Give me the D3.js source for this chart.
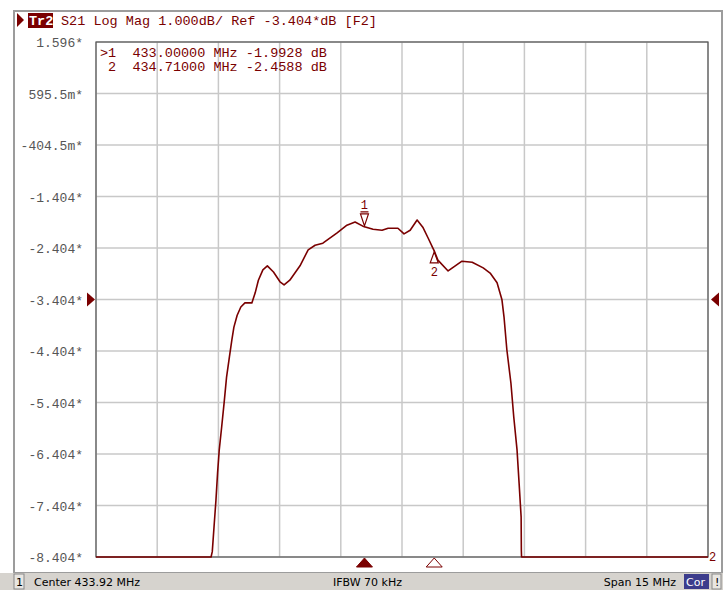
<!DOCTYPE html>
<html>
<head>
<meta charset="utf-8">
<script src="https://cdn.jsdelivr.net/npm/d3@7"></script>
<style>
  html, body { margin: 0; padding: 0; background: #fff; }
  svg { display: block; }
  .mono { font-family: "Liberation Mono", "DejaVu Sans Mono", monospace; }
  .stat { font-family: "DejaVu Sans", sans-serif; font-size: 11px; }
</style>
</head>
<body>
<svg id="vna" width="723" height="590"></svg>
<script>
// Réglages de l'analyseur (Tr2 S21)
const centreMHz = 433.92;
const spanMHz = 15;
const refDb = -3.404;
const dbParDiv = 1.0;

// Graduations verticales (valeurs + libellés comme affichés)
const yTickVals = [1.596, 0.5955, -0.4045, -1.404, -2.404, -3.404, -4.404, -5.404, -6.404, -7.404, -8.404];
const yTickLabels = ['1.596*', '595.5m*', '-404.5m*', '-1.404*', '-2.404*', '-3.404*', '-4.404*', '-5.404*', '-6.404*', '-7.404*', '-8.404*'];

// Trace (MHz, dB) ; hors bande très bas -> écrêté en bas
const freqs = [426.42, 429.24, 429.27, 429.32, 429.36, 429.40, 429.44, 429.50, 429.56, 429.62, 429.69,
  429.75, 429.80, 429.88, 429.97, 430.07, 430.24, 430.32, 430.40, 430.51, 430.62, 430.77, 430.93,
  431.03, 431.17, 431.42, 431.62, 431.79, 431.98, 432.33, 432.57, 432.77, 432.96, 433.00, 433.21,
  433.43, 433.58, 433.82, 433.97, 434.12, 434.29, 434.43, 434.56, 434.68, 434.71, 434.80, 435.05,
  435.19, 435.39, 435.64, 435.91, 436.08, 436.25, 436.37, 436.42, 436.49, 436.59, 436.66, 436.74,
  436.79, 436.84, 436.845, 436.85, 436.86, 441.42];
const gains = [-30, -30, -8.30, -7.74, -7.30, -6.77, -6.33, -5.88, -5.41, -4.91, -4.52,
  -4.19, -3.94, -3.71, -3.55, -3.47, -3.47, -3.28, -3.03, -2.83, -2.75, -2.87, -3.06,
  -3.12, -3.03, -2.75, -2.44, -2.35, -2.31, -2.11, -1.96, -1.90, -1.98, -1.99, -2.04,
  -2.06, -2.02, -2.02, -2.13, -2.06, -1.86, -2.00, -2.21, -2.41, -2.46, -2.64, -2.85,
  -2.77, -2.66, -2.68, -2.79, -2.89, -3.08, -3.41, -3.74, -4.38, -5.03, -5.69, -6.33,
  -6.97, -7.63, -8.27, -8.40, -30, -30];

// Marqueurs
const markerIds = ['1', '2'];
const markerFreqs = [433.0, 434.71];
const markerGains = [-1.9928, -2.4588];
const markerRows = ['>1  433.00000 MHz -1.9928 dB', ' 2  434.71000 MHz -2.4588 dB'];

const ROUGE = '#7a0000';
const svg = d3.select('#vna');

const x = d3.scaleLinear()
  .domain([centreMHz - spanMHz / 2, centreMHz + spanMHz / 2])
  .range([96, 708]);
const y = d3.scaleLinear()
  .domain([refDb - 5 * dbParDiv, refDb + 5 * dbParDiv])
  .range([557, 42])
  .clamp(true);

// cadre extérieur
svg.append('rect').attr('x', 14).attr('y', 11).attr('width', 708).attr('height', 562)
  .attr('fill', '#fff').attr('stroke', '#9c9c9c').attr('stroke-width', 2);

// en-tête
svg.append('path').attr('d', 'M17,13 L24,20 L17,27 Z').attr('fill', ROUGE);
svg.append('rect').attr('x', 28).attr('y', 13).attr('width', 25).attr('height', 15).attr('fill', ROUGE);
svg.append('text').attr('class', 'mono').attr('x', 29).attr('y', 25)
  .attr('font-size', 13.5).attr('font-weight', 'bold').attr('fill', '#fff').text('Tr2');
svg.append('text').attr('class', 'mono').attr('x', 61).attr('y', 25)
  .attr('font-size', 13.5).attr('fill', ROUGE)
  .text('S21 Log Mag 1.000dB/ Ref -3.404*dB [F2]');

// grille
const xGrid = d3.range(11).map(i => x.domain()[0] + i * spanMHz / 10);
svg.append('g').selectAll('line').data(xGrid).join('line')
  .attr('x1', d => x(d)).attr('x2', d => x(d)).attr('y1', 42).attr('y2', 557)
  .attr('stroke', '#c8c8c8').attr('stroke-width', 1.5);
svg.append('g').selectAll('line').data(yTickVals).join('line')
  .attr('x1', 96).attr('x2', 708).attr('y1', d => y(d)).attr('y2', d => y(d))
  .attr('stroke', '#c8c8c8').attr('stroke-width', 1.5);
svg.append('rect').attr('x', 96).attr('y', 42).attr('width', 612).attr('height', 515)
  .attr('fill', 'none').attr('stroke', '#555').attr('stroke-width', 1.2);

// libellés Y
svg.append('g').selectAll('text').data(yTickVals).join('text')
  .attr('class', 'mono').attr('x', 83).attr('y', d => y(d) + 5)
  .attr('text-anchor', 'end').attr('font-size', 13).attr('fill', '#555')
  .text((d, i) => yTickLabels[i]);

// tableau des marqueurs
svg.append('g').selectAll('text').data(markerRows).join('text')
  .attr('class', 'mono').attr('x', 100).attr('y', (d, i) => 57 + i * 14)
  .attr('font-size', 13.5).attr('fill', ROUGE).attr('xml:space', 'preserve')
  .style('white-space', 'pre').text(d => d);

// trace
const pts = freqs.map((f, i) => [f, gains[i]]);
svg.append('path').datum(pts)
  .attr('d', d3.line().x(d => x(d[0])).y(d => y(d[1])))
  .attr('fill', 'none').attr('stroke', ROUGE).attr('stroke-width', 1.6)
  .attr('stroke-linejoin', 'round');

// marqueurs sur la trace
markerFreqs.forEach((f, i) => {
  const mx = x(f), my = y(markerGains[i]);
  if (i === 0) {
    svg.append('path').attr('d', `M${mx - 4},${my - 13} L${mx + 4},${my - 13} L${mx},${my - 1} Z M${mx - 4},${my - 15} L${mx + 4},${my - 15}`)
      .attr('fill', 'none').attr('stroke', ROUGE).attr('stroke-width', 1.2);
    svg.append('text').attr('class', 'mono').attr('x', mx).attr('y', my - 18)
      .attr('text-anchor', 'middle').attr('font-size', 12).attr('fill', ROUGE).text(markerIds[i]);
  } else {
    svg.append('path').attr('d', `M${mx},${my + 1} L${mx + 4},${my + 12} L${mx - 4},${my + 12} Z`)
      .attr('fill', 'none').attr('stroke', ROUGE).attr('stroke-width', 1.2);
    svg.append('text').attr('class', 'mono').attr('x', mx).attr('y', my + 25)
      .attr('text-anchor', 'middle').attr('font-size', 12).attr('fill', ROUGE).text(markerIds[i]);
  }
  // repères en bas de la grille
  const by = 558;
  svg.append('path').attr('d', `M${mx},${by} L${mx + 8},${by + 9} L${mx - 8},${by + 9} Z`)
    .attr('fill', i === 0 ? ROUGE : '#fff').attr('stroke', ROUGE).attr('stroke-width', 1);
});

// niveau de référence (flèches gauche/droite)
const yr = y(refDb);
svg.append('path').attr('d', `M87,${yr - 7} L95,${yr} L87,${yr + 7} Z`).attr('fill', ROUGE);
svg.append('path').attr('d', `M719,${yr - 7} L711,${yr} L719,${yr + 7} Z`).attr('fill', ROUGE);
svg.append('text').attr('class', 'mono').attr('x', 709).attr('y', 561)
  .attr('font-size', 12).attr('fill', ROUGE).text('2');

// barre d'état
svg.append('rect').attr('x', 0).attr('y', 573).attr('width', 723).attr('height', 17).attr('fill', '#d6d3ce');
svg.append('rect').attr('x', 14).attr('y', 574).attr('width', 10).attr('height', 15)
  .attr('fill', '#e8e6e2').attr('stroke', '#888');
svg.append('text').attr('class', 'stat').attr('x', 16).attr('y', 586).text('1');
svg.append('text').attr('class', 'stat').attr('x', 34).attr('y', 586).text('Center 433.92 MHz');
svg.append('text').attr('class', 'stat').attr('x', 333).attr('y', 586).text('IFBW 70 kHz');
svg.append('text').attr('class', 'stat').attr('x', 676).attr('y', 586).attr('text-anchor', 'end').text('Span 15 MHz');
svg.append('rect').attr('x', 684).attr('y', 574).attr('width', 25).attr('height', 15).attr('fill', '#3c3c8c');
svg.append('text').attr('class', 'stat').attr('x', 686).attr('y', 586).attr('fill', '#fff').text('Cor');
svg.append('rect').attr('x', 712).attr('y', 574).attr('width', 9).attr('height', 15)
  .attr('fill', '#e8e6e2').attr('stroke', '#888');
svg.append('text').attr('class', 'stat').attr('x', 715).attr('y', 586).text('!');
</script>
</body>
</html>
